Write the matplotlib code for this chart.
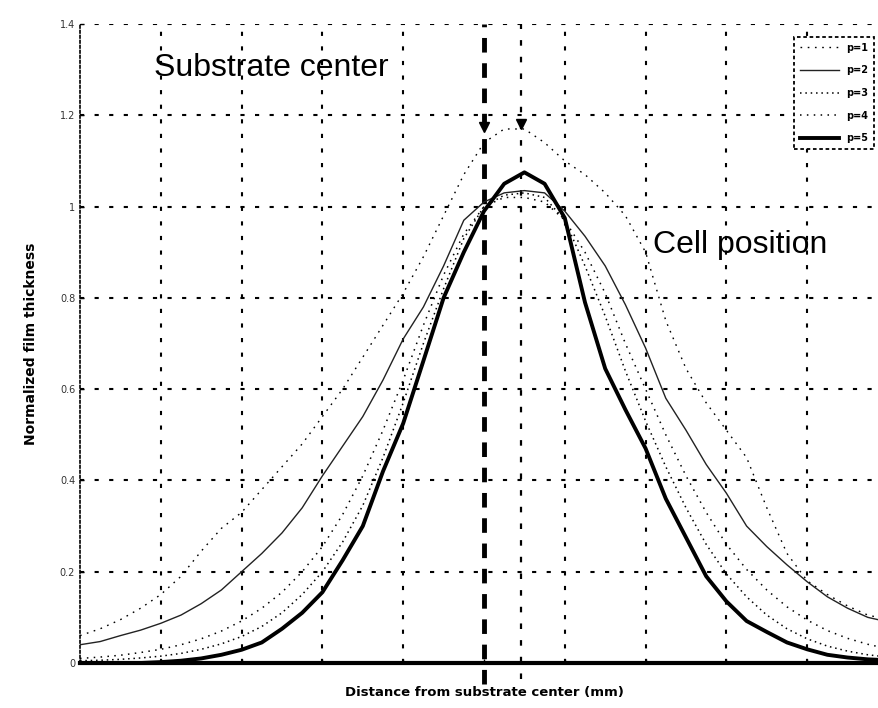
import matplotlib
matplotlib.use("Agg")
import matplotlib.pyplot as plt

# ---- data ----
x_mm = [-50, -47.5, -45, -42.5, -40, -37.5, -35, -32.5, -30, -27.5, -25, -22.5, -20,
        -17.5, -15, -12.5, -10, -7.5, -5, -2.5, 0, 2.5, 5, 7.5, 10, 12.5, 15, 17.5,
        20, 22.5, 25, 27.5, 30, 32.5, 35, 37.5, 40, 42.5, 45, 47.5, 50]

p1 = [0.06, 0.075, 0.095, 0.12, 0.15, 0.19, 0.245, 0.295, 0.33, 0.38, 0.43, 0.48, 0.54,
      0.60, 0.67, 0.74, 0.81, 0.89, 0.98, 1.07, 1.14, 1.17, 1.17, 1.14, 1.10, 1.07, 1.03,
      0.98, 0.90, 0.75, 0.645, 0.57, 0.51, 0.45, 0.34, 0.24, 0.18, 0.15, 0.125, 0.105, 0.095]

p2 = [0.04, 0.047, 0.06, 0.072, 0.087, 0.105, 0.13, 0.16, 0.20, 0.24, 0.285, 0.34, 0.41,
      0.475, 0.54, 0.62, 0.71, 0.78, 0.87, 0.97, 1.01, 1.03, 1.035, 1.03, 0.99, 0.935, 0.87,
      0.785, 0.69, 0.58, 0.51, 0.435, 0.372, 0.30, 0.255, 0.215, 0.178, 0.145, 0.12, 0.10, 0.09]

p3 = [0.005, 0.006, 0.008, 0.011, 0.015, 0.021, 0.03, 0.042, 0.058, 0.08, 0.11, 0.15, 0.20,
      0.265, 0.345, 0.45, 0.57, 0.70, 0.82, 0.93, 1.00, 1.025, 1.03, 1.02, 0.97, 0.87, 0.76,
      0.64, 0.53, 0.43, 0.34, 0.26, 0.195, 0.145, 0.105, 0.075, 0.053, 0.037, 0.026, 0.018, 0.013]

p4 = [0.01, 0.013, 0.017, 0.023, 0.03, 0.04, 0.053, 0.07, 0.092, 0.12, 0.155, 0.20, 0.255,
      0.325, 0.41, 0.51, 0.62, 0.74, 0.85, 0.94, 1.00, 1.02, 1.02, 1.01, 0.97, 0.90, 0.81,
      0.70, 0.60, 0.50, 0.41, 0.33, 0.26, 0.205, 0.16, 0.123, 0.094, 0.071, 0.054, 0.041, 0.031]

p5 = [0.0, 0.0, 0.0, 0.0, 0.002, 0.005, 0.01, 0.018, 0.029, 0.045, 0.075, 0.11, 0.155,
      0.225, 0.30, 0.42, 0.525, 0.662, 0.80, 0.90, 0.99, 1.05, 1.075, 1.05, 0.975, 0.79, 0.645,
      0.555, 0.47, 0.36, 0.275, 0.19, 0.135, 0.092, 0.068, 0.045, 0.03, 0.018, 0.012, 0.008, 0.006]

series_labels = ["p=1", "p=2", "p=3", "p=4", "p=5"]
y_ticks = [0, 0.2, 0.4, 0.6, 0.8, 1.0, 1.2, 1.4]
y_tick_labels = ["0", "0.2", "0.4", "0.6", "0.8", "1", "1.2", "1.4"]
x_grid = [-50, -40, -30, -20, -10, 0, 10, 20, 30, 40, 50]
substrate_center = 0.0
cell_position = 4.6

# ---- figure ----
W, H = 879, 708
fig = plt.figure(figsize=(W / 100, H / 100), dpi=100)
ax = fig.add_axes([80 / W, 1 - 663 / H, (888 - 80) / W, (663 - 24) / H])
ax.set_xlim(-50, 50)
ax.set_ylim(0, 1.4)

grid_kw = dict(color="black", lw=1.5, dashes=(2, 5), zorder=1)
for yv in y_ticks[1:]:
    ax.axhline(yv, **grid_kw)
for xv in x_grid[1:-1]:
    if xv != 0:
        ax.axvline(xv, **grid_kw)

# substrate center & cell position lines
ax.plot([substrate_center, substrate_center], [-0.045, 1.4], color="black", lw=3.5,
        dashes=(3, 2.2), clip_on=False, zorder=3)
ax.plot([cell_position, cell_position], [-0.035, 1.4], color="black", lw=1.6,
        dashes=(2.5, 5), clip_on=False, zorder=3)
ax.plot([substrate_center, cell_position], [1.175, 1.18], linestyle="none",
        marker="v", color="black", markersize=7, zorder=4)

styles = [
    dict(color="black", lw=1.0, dashes=(1.2, 4)),
    dict(color="#222222", lw=1.0, linestyle="-"),
    dict(color="black", lw=1.1, dashes=(1, 2.5)),
    dict(color="black", lw=1.1, dashes=(1, 3.5)),
    dict(color="black", lw=2.8, linestyle="-"),
]
for yv, lab, st in zip([p1, p2, p3, p4, p5], series_labels, styles):
    ax.plot(x_mm, yv, label=lab, zorder=5, **st)

ax.set_yticks(y_ticks)
ax.set_yticklabels(y_tick_labels, fontsize=7, color="#333333")
ax.set_xticks(x_grid)
ax.set_xticklabels([])
ax.tick_params(axis="both", length=3, width=1, direction="in")

for side in ["top", "right"]:
    ax.spines[side].set_visible(False)
ax.spines["left"].set_linewidth(1.2)
ax.spines["left"].set_linestyle((0, (1.5, 1.5)))
ax.spines["bottom"].set_linewidth(3)

ax.text(-40.8, 1.303, "Substrate center", fontsize=23, family="Liberation Sans",
        va="center", ha="left")
ax.text(20.9, 0.915, "Cell position", fontsize=23, family="Liberation Sans",
        va="center", ha="left")

ax.set_ylabel("Normalized film thickness", fontsize=10, fontweight="bold", labelpad=16)
ax.set_xlabel("Distance from substrate center (mm)", fontsize=9.5, fontweight="bold",
              labelpad=13)

leg = fig.legend(loc="upper right", bbox_to_anchor=(879 / W, 1 - 32 / H),
                 frameon=True, fancybox=False, handlelength=4.0,
                 labelspacing=1.3, borderpad=0.6, prop={"weight": "bold", "size": 7})
leg.get_frame().set_edgecolor("black")
leg.get_frame().set_linewidth(1.3)
leg.get_frame().set_linestyle((0, (2, 1.5)))
leg.get_frame().set_alpha(1)

fig.savefig("out.png", dpi=100)
